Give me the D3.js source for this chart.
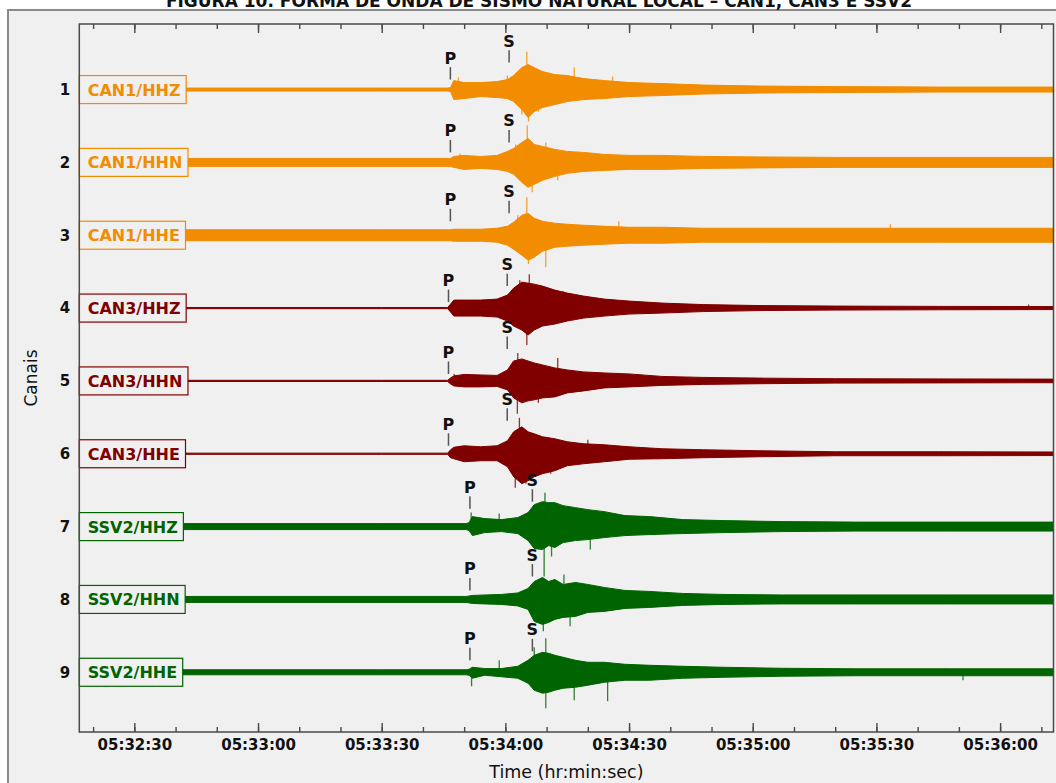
<!DOCTYPE html>
<html>
<head>
<meta charset="utf-8">
<script src="https://cdn.jsdelivr.net/npm/d3@7"></script>
<style>
  body { margin: 0; background: #fff; }
  svg { display: block; font-family: "DejaVu Sans", sans-serif; }
</style>
</head>
<body>
<div id="chart"></div>
<script>
//--- data ---//
const title = "FIGURA 10. FORMA DE ONDA DE SISMO NATURAL LOCAL – CAN1, CAN3 E SSV2";
const channels = ["CAN1/HHZ", "CAN1/HHN", "CAN1/HHE", "CAN3/HHZ", "CAN3/HHN", "CAN3/HHE", "SSV2/HHZ", "SSV2/HHN", "SSV2/HHE"];
const channelNumbers = [1, 2, 3, 4, 5, 6, 7, 8, 9];
const timeTicks = ["05:32:30", "05:33:00", "05:33:30", "05:34:00", "05:34:30", "05:35:00", "05:35:30", "05:36:00"];
const referenceTime = "05:34:00"; // envelope / pick times are seconds after this
const timeSpan = [-103.35, 132.95]; // window shown

// picks (s after 05:34:00) and height of the pick mark over the trace (amplitude units)
const pArrival = [-13.34, -13.34, -13.34, -13.8, -13.8, -13.8, -8.6, -8.6, -8.6];
const sArrival = [0.9, 0.9, 0.9, 0.45, 0.45, 0.45, 6.55, 6.55, 6.55];
const pLevel = [10, 10, 14, 6, 7, 8, 18, 9, 12];
const sLevel = [27, 20, 22, 22, 32, 33, 25, 23, 21];

// envelope sample times, CAN1 + CAN3 and SSV2
const envTimeA = [-103.4, -60, -30, -14, -13.3, -12.5, -10, -6, -2, 0.5, 2, 4, 5.5, 7, 9, 12, 15, 19, 24, 30, 38, 48, 62, 80, 105, 133];
const envTimeB = [-103.4, -60, -30, -9.5, -8.8, -8, -5, -1, 3, 5.5, 7, 9, 10.5, 12, 14, 17, 20, 24, 29, 35, 43, 53, 67, 85, 108, 133];

// upper / lower envelope amplitude per channel (73 units = one trace spacing)
const envUpper = [
  [1.5, 1.5, 1.5, 1.5, 2, 9, 7, 7, 8, 10, 14, 22, 25, 22, 18, 15, 14, 11, 9, 7, 6, 4.5, 3.5, 3, 2.5, 2.5],
  [4, 4, 4, 4, 4, 6, 7, 6, 7, 11, 14, 20, 24, 18, 16, 13, 11, 10, 8, 7, 7, 6, 5.5, 5, 5, 5],
  [5.5, 5.5, 5.5, 5.5, 5.5, 6, 6, 6, 7, 9, 13, 20, 22, 17, 14, 12, 11, 10, 9, 8, 8, 7, 7, 7, 7, 7],
  [0.6, 0.6, 0.6, 0.6, 4, 8, 8, 8, 9, 13, 20, 26, 25, 24, 22, 18, 15, 12, 9, 7, 5, 3.5, 2.5, 2, 1.7, 1.5],
  [0.6, 0.6, 0.6, 0.6, 3, 5, 6.5, 6, 5.5, 11, 20, 22, 20, 18, 16, 13, 11, 9, 8, 7, 4.5, 3.5, 2.8, 2.2, 2, 1.8],
  [0.6, 0.6, 0.6, 0.6, 4, 6.5, 8, 7, 8, 13, 22, 27, 22, 20, 17, 15, 12, 10, 9, 7, 5, 4, 3, 2, 2, 1.8],
  [3, 3, 3, 3, 4, 10, 8, 7, 9, 14, 22, 25, 24, 24, 21, 19, 17, 15, 11, 10, 7, 6, 5, 4.5, 4.5, 4.5],
  [3, 3, 3, 3, 3.5, 4, 4.5, 5, 6.5, 11, 18, 22, 18, 20, 15, 17, 15, 12, 9, 8, 6, 5, 4.5, 4.5, 4.5, 4.5],
  [2.5, 2.5, 2.5, 2.5, 3, 5, 3.7, 3.7, 6, 12, 17, 20, 19, 17, 15, 12, 10, 10, 8, 7, 6, 5, 4, 3.5, 3.5, 3.5]
];
const envLower = [
  [1.5, 1.5, 1.5, 1.5, 2, 10, 9, 7, 8, 9, 12, 20, 28, 22, 18, 15, 12, 10, 9, 7, 6, 4.5, 3.5, 3, 2.5, 2.5],
  [4, 4, 4, 4, 4, 5, 7, 6, 7, 9, 12, 20, 25, 22, 18, 14, 11, 9, 8, 7, 7, 6, 5.5, 5, 5, 5],
  [5.5, 5.5, 5.5, 5.5, 5.5, 6, 6, 6, 7, 10, 14, 20, 25, 22, 16, 12, 11, 10, 9, 8, 8, 7, 7, 7, 7, 7],
  [0.6, 0.6, 0.6, 0.6, 4, 8, 8, 8, 9, 13, 18, 22, 27, 22, 18, 16, 13, 10, 8, 6, 5, 3.5, 2.5, 2, 1.7, 1.5],
  [0.6, 0.6, 0.6, 0.6, 3, 5, 6, 6, 5.5, 9, 17, 22, 20, 19, 17, 16, 12, 10, 7, 6, 4.5, 3.5, 2.8, 2.2, 2, 1.8],
  [0.6, 0.6, 0.6, 0.6, 4, 5, 8, 7, 7, 13, 23, 30, 27, 23, 20, 17, 12, 10, 8, 5.5, 5, 4, 3, 2, 2, 1.8],
  [3, 3, 3, 3, 4, 9, 6, 5, 7, 14, 22, 23, 19, 21, 16, 14, 13, 11, 9, 8, 7, 6, 5, 4.5, 4.5, 4.5],
  [3, 3, 3, 3, 3.5, 4, 4.5, 5, 6.5, 10, 22, 25, 23, 20, 18, 17, 13, 12, 9, 8, 6, 5, 4.5, 4.5, 4.5, 4.5],
  [2.5, 2.5, 2.5, 2.5, 3, 6, 3, 4.5, 6, 11, 18, 21, 20, 18, 16, 15, 13, 10, 8, 8, 6, 5, 4, 3.5, 3.5, 3.5]
];

// largest single peaks [s after 05:34:00, amplitude (+ up / - down)]
const peaks = [
  [[5.2, 38], [5.6, -32], [4.0, -25], [16.7, 22], [-11.4, 12], [8, -22], [0.5, 14], [26, 13]],
  [[5.3, 37], [6.5, -30], [9.8, 20], [2.5, 18], [12.7, -18], [-11, 9]],
  [[5.2, 38], [9.8, -32], [5.6, -29], [3, 20], [27.5, 14], [93.4, 11]],
  [[5.8, 34], [5.2, -37], [3.5, 28], [14, 17], [126.9, 3.5]],
  [[2.9, -33], [3.0, 28], [12.7, 23], [8, -22], [-12.4, 7]],
  [[3.4, 36], [2.4, -34], [5, -30], [11, -20], [20, 14]],
  [[9.6, 34], [9.4, -50], [11.2, -30], [20.6, -23], [-8.3, 14], [-1.5, 13]],
  [[9.2, -32], [14.2, 25], [15.7, -27], [7.5, -17]],
  [[9.8, 34], [9.8, -36], [24.8, -29], [16.7, -28], [7, 25], [-8.2, -14], [-1.5, 12], [111, -8]]
];

//--- style ---//
const stationColor = { CAN1: "#f28c00", CAN3: "#800000", SSV2: "#006400" };
const bg = "#f0f0f0";
const axisColor = "#4a4a4a";

//--- layout ---//
const width = 1056;
const height = 783;
const plot = { left: 79.3, right: 1053.5, top: 24, bottom: 732 };

const parseTime = d3.utcParse("%H:%M:%S");
const formatTime = d3.utcFormat("%H:%M:%S");
const origin = parseTime(referenceTime);
const at = (s) => new Date(origin.getTime() + s * 1000);

const x = d3.scaleUtc().domain(timeSpan.map(at)).range([plot.left, plot.right]);
const y = d3.scaleLinear().domain([0.1, 9.82]).range([plot.top, plot.bottom]);
const amp = d3.scaleLinear().domain([0, 73]).range([0, y(2) - y(1)]);

const svg = d3.select("#chart").append("svg").attr("width", width).attr("height", height);

// outer panel
svg.append("rect").attr("x", 8).attr("y", 10).attr("width", width + 40).attr("height", height + 40)
  .attr("fill", bg).attr("stroke", "#8a8a8a").attr("stroke-width", 2);

// title (cut by the top edge, as in the source figure)
svg.append("text").attr("x", 539).attr("y", 6.5).attr("text-anchor", "middle")
  .attr("font-weight", "bold").attr("font-size", 17).attr("fill", "#111").text(title);

svg.append("clipPath").attr("id", "plotClip").append("rect")
  .attr("x", plot.left).attr("y", plot.top)
  .attr("width", plot.right - plot.left).attr("height", plot.bottom - plot.top);

const traces = svg.append("g").attr("clip-path", "url(#plotClip)");

channels.forEach((name, i) => {
  const ch = channelNumbers[i];
  const color = stationColor[name.split("/")[0]];
  const times = i < 6 ? envTimeA : envTimeB;
  const pts = times.map((t, j) => ({ t, up: envUpper[i][j], dn: envLower[i][j] }));

  const area = d3.area()
    .x((d) => x(at(d.t)))
    .y0((d) => y(ch) + amp(d.dn))
    .y1((d) => y(ch) - amp(d.up));

  traces.append("path").datum(pts)
    .attr("d", area)
    .attr("fill", color)
    .attr("stroke", color)
    .attr("stroke-width", 1)
    .attr("stroke-linejoin", "round");

  traces.selectAll(null).data(peaks[i]).enter().append("line")
    .attr("x1", (d) => x(at(d[0]))).attr("x2", (d) => x(at(d[0])))
    .attr("y1", y(ch)).attr("y2", (d) => y(ch) - amp(d[1]))
    .attr("stroke", color).attr("stroke-width", 1.3).attr("stroke-opacity", 0.8);
});

// channel label boxes
channels.forEach((name, i) => {
  const ch = channelNumbers[i];
  const color = stationColor[name.split("/")[0]];
  const g = svg.append("g");
  const box = g.append("rect");
  const txt = g.append("text")
    .attr("x", plot.left + 8.4).attr("y", y(ch) + 6)
    .attr("font-weight", "bold").attr("font-size", 16).attr("fill", color).text(name);
  const w = txt.node().getComputedTextLength();
  box.attr("x", plot.left).attr("y", y(ch) - 14).attr("width", w + 14).attr("height", 28)
    .attr("fill", bg).attr("stroke", color).attr("stroke-width", 1.2);
});

// P and S picks
const picks = [];
channelNumbers.forEach((ch, i) => {
  picks.push({ ch, label: "P", t: pArrival[i], level: pLevel[i] });
  picks.push({ ch, label: "S", t: sArrival[i], level: sLevel[i] });
});
const pickG = svg.append("g").selectAll("g").data(picks).enter().append("g");
pickG.append("line")
  .attr("x1", (d) => x(at(d.t))).attr("x2", (d) => x(at(d.t)))
  .attr("y1", (d) => y(d.ch) - amp(d.level))
  .attr("y2", (d) => y(d.ch) - amp(d.level + 12.5))
  .attr("stroke", "#555").attr("stroke-width", 1.5);
pickG.append("text")
  .attr("x", (d) => x(at(d.t)))
  .attr("y", (d) => y(d.ch) - amp(d.level + 16))
  .attr("text-anchor", "middle").attr("font-weight", "bold").attr("font-size", 16)
  .attr("fill", "#111").text((d) => d.label);

// frame
svg.append("rect").attr("x", plot.left).attr("y", plot.top)
  .attr("width", plot.right - plot.left).attr("height", plot.bottom - plot.top)
  .attr("fill", "none").attr("stroke", axisColor).attr("stroke-width", 1.5);

// time axes
const majorTicks = timeTicks.map(parseTime);
const minorTicks = d3.utcSecond.every(10).range(x.domain()[0], x.domain()[1]);

function styleAxis(g) {
  g.select(".domain").remove();
  g.selectAll(".tick line").attr("stroke", axisColor).attr("stroke-width", 1.4);
}

svg.append("g").attr("transform", `translate(0,${plot.bottom})`)
  .call(d3.axisBottom(x).tickValues(minorTicks).tickSize(-5).tickFormat(""))
  .call(styleAxis);
svg.append("g").attr("transform", `translate(0,${plot.top})`)
  .call(d3.axisTop(x).tickValues(minorTicks).tickSize(-5).tickFormat(""))
  .call(styleAxis);
svg.append("g").attr("transform", `translate(0,${plot.top})`)
  .call(d3.axisTop(x).tickValues(majorTicks).tickSize(-9).tickFormat(""))
  .call(styleAxis);

const xAxis = svg.append("g").attr("transform", `translate(0,${plot.bottom})`)
  .call(d3.axisBottom(x).tickValues(majorTicks).tickSize(-9).tickPadding(7).tickFormat(formatTime))
  .call(styleAxis);
xAxis.selectAll("text").attr("font-family", "DejaVu Sans").attr("font-weight", "bold")
  .attr("font-size", 15).attr("fill", "#111");

svg.append("text").attr("x", (plot.left + plot.right) / 2).attr("y", 778)
  .attr("text-anchor", "middle").attr("font-size", 17.5).attr("fill", "#111")
  .text("Time (hr:min:sec)");

// channel axis
const yAxis = svg.append("g").attr("transform", `translate(${plot.left},0)`)
  .call(d3.axisLeft(y).tickValues(channelNumbers).tickSize(0).tickPadding(9).tickFormat(d3.format("d")));
yAxis.select(".domain").remove();
yAxis.selectAll("text").attr("font-family", "DejaVu Sans").attr("font-weight", "bold")
  .attr("font-size", 15).attr("fill", "#111");

svg.append("text").attr("transform", "translate(37,378) rotate(-90)")
  .attr("text-anchor", "middle").attr("font-size", 17).attr("fill", "#111").text("Canais");
</script>
</body>
</html>
